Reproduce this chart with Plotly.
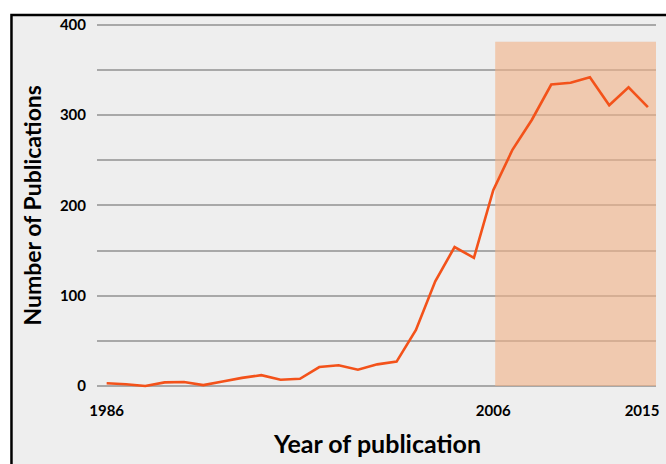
import plotly.graph_objects as go

years = list(range(1986, 2015))
publications = [3, 2, 0, 4, 4.5, 1, 5, 9, 12, 7, 8, 21, 23, 18, 24, 27,
                62, 116, 154, 142, 217, 262, 295, 334, 336, 342, 311, 331, 309]

x_tick_vals = [1986, 2006, 2013.7]
x_tick_text = ["1986", "2006", "2015"]
y_tick_vals = [0, 100, 200, 300, 400]
y_tick_text = ["0", "100", "200", "300", "400"]

highlight_start = 2006.1
highlight_top = 381.5

x_range = [1985.5, 2014.42]
y_range = [-4.43, 405.5]

fig = go.Figure()
fig.add_trace(go.Scatter(
    x=years, y=publications, mode="lines",
    line=dict(color="#f3521a", width=2.6),
    hoverinfo="x+y", showlegend=False,
))

# outer frame
fig.add_shape(type="rect", xref="paper", yref="paper",
              x0=-0.153, x1=1.08, y0=-0.4, y1=1.0135,
              line=dict(color="black", width=2.5), fillcolor="#eeeeee",
              layer="below")
# highlighted period
fig.add_shape(type="rect", xref="x", yref="y",
              x0=highlight_start, x1=x_range[1], y0=0, y1=highlight_top,
              line=dict(width=0), fillcolor="rgba(240,178,136,0.62)",
              layer="between")

tick_font = dict(family="Lato", size=15, color="black", weight="bold")
x_title_font = dict(family="Lato", size=25, color="black", weight="bold")
y_title_font = dict(family="Lato", size=23, color="black", weight="bold")

fig.add_annotation(text="Year of publication", xref="paper", yref="paper",
                   x=0.5, y=-0.143, xanchor="center", yanchor="middle",
                   showarrow=False, font=x_title_font)
fig.add_annotation(text="Number of Publications", xref="paper", yref="paper",
                   x=-0.117, y=0.5, xanchor="center", yanchor="middle",
                   textangle=-90, showarrow=False, font=y_title_font)

fig.update_layout(
    width=666, height=464,
    margin=dict(l=97, r=7, t=20, b=74),
    paper_bgcolor="white", plot_bgcolor="#eeeeee",
    xaxis=dict(range=x_range, tickvals=x_tick_vals, ticktext=x_tick_text,
               showgrid=False, zeroline=False, showline=False, ticks="",
               tickfont=tick_font, ticklabelstandoff=10),
    yaxis=dict(range=y_range, tickvals=y_tick_vals, ticktext=y_tick_text,
               showgrid=True, gridcolor="#a8a8a8", gridwidth=1.6,
               zeroline=False, showline=False, ticks="",
               tickfont=tick_font, ticklabelstandoff=10,
               minor=dict(dtick=50, tick0=0, showgrid=True,
                          gridcolor="#a8a8a8", gridwidth=1.6)),
)

fig.write_html("out.html",
               config={"displayModeBar": False},
               post_script="document.body.style.margin='0';"
                           "document.body.style.overflow='hidden';")
